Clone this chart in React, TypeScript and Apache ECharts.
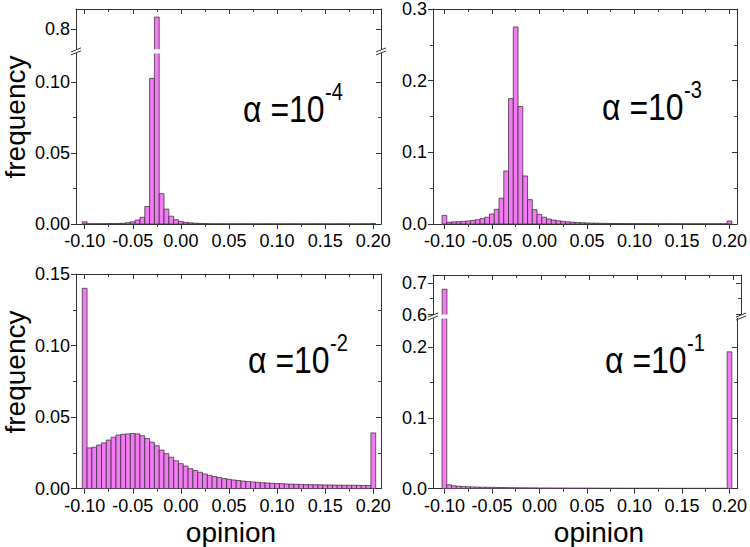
import React, { useEffect, useRef } from 'react';
import * as echarts from 'echarts';

// ---------- data ----------
const BIN = 0.005;
const opinionBins = [
  -0.1, -0.095, -0.09, -0.085, -0.08, -0.075, -0.07, -0.065, -0.06, -0.055,
  -0.05, -0.045, -0.04, -0.035, -0.03, -0.025, -0.02, -0.015, -0.01, -0.005,
  0.0, 0.005, 0.01, 0.015, 0.02, 0.025, 0.03, 0.035, 0.04, 0.045,
  0.05, 0.055, 0.06, 0.065, 0.07, 0.075, 0.08, 0.085, 0.09, 0.095,
  0.1, 0.105, 0.11, 0.115, 0.12, 0.125, 0.13, 0.135, 0.14, 0.145,
  0.15, 0.155, 0.16, 0.165, 0.17, 0.175, 0.18, 0.185, 0.19, 0.195,
  0.2,
];

// alpha = 1e-4
const freqAlpha4 = [
  0.0015, 0.0002, 0.0002, 0.0002, 0.0002, 0.0003, 0.0003, 0.0004, 0.0005, 0.0009,
  0.0015, 0.0028, 0.0047, 0.0123, 0.1025, 0.83, 0.0213, 0.0105, 0.0055, 0.003,
  0.0018, 0.0012, 0.0008, 0.0006, 0.0004, 0.0003, 0.0002, 0.0001, 0.0001, 0.0001,
  0.0001, 0.0001, 0.0001, 0.0001, 0.0001, 0.0001, 0.0001, 0.0001, 0.0001, 0.0001,
  0.0001, 0.0001, 0.0001, 0.0001, 0.0001, 0.0001, 0.0001, 0.0001, 0.0001, 0.0001,
  0.0001, 0.0001, 0.0001, 0.0001, 0.0001, 0.0001, 0.0001, 0.0001, 0.0001, 0.0001,
  0.0003,
];

// alpha = 1e-3
const freqAlpha3 = [
  0.012, 0.0025, 0.003, 0.0033, 0.0037, 0.0042, 0.005, 0.006, 0.0075, 0.0095,
  0.014, 0.0205, 0.036, 0.074, 0.175, 0.275, 0.164, 0.067, 0.034, 0.02,
  0.0135, 0.0095, 0.007, 0.0055, 0.0045, 0.0037, 0.003, 0.0025, 0.0021, 0.0018,
  0.0015, 0.0013, 0.0012, 0.001, 0.0009, 0.0008, 0.0007, 0.0007, 0.0006, 0.0006,
  0.0005, 0.0005, 0.0005, 0.0005, 0.0004, 0.0004, 0.0004, 0.0004, 0.0004, 0.0004,
  0.0003, 0.0003, 0.0003, 0.0003, 0.0003, 0.0003, 0.0003, 0.0003, 0.0003, 0.0003,
  0.0042,
];

// alpha = 1e-2
const freqAlpha2 = [
  0.14, 0.0285, 0.029, 0.0305, 0.032, 0.034, 0.036, 0.0375, 0.038, 0.0383,
  0.0385, 0.0383, 0.037, 0.035, 0.0325, 0.03, 0.027, 0.0245, 0.022, 0.0195,
  0.0175, 0.0158, 0.014, 0.0127, 0.0115, 0.0103, 0.0093, 0.0085, 0.0078, 0.0071,
  0.0066, 0.0061, 0.0057, 0.0053, 0.005, 0.0047, 0.0044, 0.0042, 0.004, 0.0038,
  0.0036, 0.0035, 0.0033, 0.0032, 0.0031, 0.003, 0.0029, 0.0028, 0.0028, 0.0027,
  0.0026, 0.0026, 0.0025, 0.0025, 0.0024, 0.0024, 0.0024, 0.0023, 0.0023, 0.0023,
  0.039,
];

// alpha = 1e-1
const freqAlpha1 = [
  0.68, 0.0055, 0.004, 0.0035, 0.003, 0.0027, 0.0025, 0.0023, 0.0021, 0.002,
  0.0019, 0.0018, 0.0017, 0.0016, 0.0015, 0.0014, 0.0013, 0.0013, 0.0012, 0.0012,
  0.0011, 0.0011, 0.0011, 0.001, 0.001, 0.001, 0.001, 0.0009, 0.0009, 0.0009,
  0.0009, 0.0009, 0.0008, 0.0008, 0.0008, 0.0008, 0.0008, 0.0008, 0.0007, 0.0007,
  0.0007, 0.0007, 0.0007, 0.0007, 0.0007, 0.0007, 0.0006, 0.0006, 0.0006, 0.0006,
  0.0006, 0.0006, 0.0006, 0.0006, 0.0006, 0.0006, 0.0006, 0.0006, 0.0006, 0.0006,
  0.193,
];

const xMajorTicks = [-0.1, -0.05, 0, 0.05, 0.1, 0.15, 0.2];
const xMinorTicks = [-0.075, -0.025, 0.025, 0.075, 0.125, 0.175];

const panelLabels = ['-4', '-3', '-2', '-1'];

// ---------- styles ----------
const FONT = "'Liberation Sans', Arial, sans-serif";
const TICK_SIZE = 18;
const AXIS_COLOR = '#333';
const BAR_FILL = '#F27AF2';
const BAR_STROKE = '#2a2a2a';

type PanelGrid = {
  left: number; top: number; width: number; height: number;
  xMin: number; xMax: number;
  yMin: number; yMax: number;
  yMajor: number[]; yMinor: number[];
  yDigits: number;
  showBottom: boolean; showTop: boolean;
  data: number[];
};

const LEFT_X: [number, number] = [-0.109, 0.208];
const RIGHT_X: [number, number] = [-0.112, 0.208];

const grids: PanelGrid[] = [
  // panel 1 upper
  { left: 76, top: 9, width: 305, height: 40.3, xMin: LEFT_X[0], xMax: LEFT_X[1],
    yMin: 0.75, yMax: 0.85, yMajor: [0.8], yMinor: [], yDigits: 1,
    showBottom: false, showTop: true, data: freqAlpha4 },
  // panel 1 lower
  { left: 76, top: 53.5, width: 305, height: 170.5, xMin: LEFT_X[0], xMax: LEFT_X[1],
    yMin: 0, yMax: 0.12, yMajor: [0, 0.05, 0.1], yMinor: [0.025, 0.075], yDigits: 2,
    showBottom: true, showTop: false, data: freqAlpha4 },
  // panel 2
  { left: 433, top: 9, width: 308, height: 215, xMin: RIGHT_X[0], xMax: RIGHT_X[1],
    yMin: 0, yMax: 0.3, yMajor: [0, 0.1, 0.2, 0.3], yMinor: [0.05, 0.15, 0.25], yDigits: 1,
    showBottom: true, showTop: true, data: freqAlpha3 },
  // panel 3
  { left: 76, top: 274, width: 305, height: 214.7, xMin: LEFT_X[0], xMax: LEFT_X[1],
    yMin: 0, yMax: 0.15, yMajor: [0, 0.05, 0.1, 0.15], yMinor: [0.025, 0.075, 0.125], yDigits: 2,
    showBottom: true, showTop: true, data: freqAlpha2 },
  // panel 4 upper
  { left: 433, top: 275, width: 308, height: 39.5, xMin: RIGHT_X[0], xMax: RIGHT_X[1],
    yMin: 0.6, yMax: 0.725, yMajor: [0.6, 0.7], yMinor: [0.65], yDigits: 1,
    showBottom: false, showTop: true, data: freqAlpha1 },
  // panel 4 lower
  { left: 433, top: 318.5, width: 308, height: 170.2, xMin: RIGHT_X[0], xMax: RIGHT_X[1],
    yMin: 0, yMax: 0.24, yMajor: [0, 0.1, 0.2], yMinor: [0.05, 0.15], yDigits: 1,
    showBottom: true, showTop: false, data: freqAlpha1 },
];

function buildOption() {
  const gridOpts: any[] = [];
  const xAxes: any[] = [];
  const yAxes: any[] = [];
  const series: any[] = [];

  grids.forEach((g, gi) => {
    gridOpts.push({ left: g.left, top: g.top, width: g.width, height: g.height, containLabel: false });
    const xBase = { type: 'value', gridIndex: gi, min: g.xMin, max: g.xMax, splitLine: { show: false } };
    const yBase = { type: 'value', gridIndex: gi, min: g.yMin, max: g.yMax, splitLine: { show: false } };
    const lineStyle = { color: AXIS_COLOR, width: 1 };
    const hiddenLine = { show: false, onZero: false };

    const primaryX = xAxes.length;
    // bottom major
    xAxes.push({
      ...xBase, position: 'bottom',
      axisLine: { show: g.showBottom, onZero: false, lineStyle },
      axisTick: { show: g.showBottom, inside: false, length: 5, customValues: xMajorTicks, lineStyle },
      axisLabel: {
        show: g.showBottom, customValues: xMajorTicks, margin: 8,
        color: '#000', fontSize: TICK_SIZE, fontFamily: FONT,
        formatter: (v: number) => v.toFixed(2),
      },
    });
    // bottom minor
    xAxes.push({
      ...xBase, position: 'bottom',
      axisLine: hiddenLine,
      axisTick: { show: g.showBottom, inside: false, length: 3, customValues: xMinorTicks, lineStyle },
      axisLabel: { show: false },
    });
    // top major
    xAxes.push({
      ...xBase, position: 'top',
      axisLine: { show: g.showTop, onZero: false, lineStyle },
      axisTick: { show: g.showTop, inside: true, length: 5, customValues: xMajorTicks, lineStyle },
      axisLabel: { show: false },
    });
    // top minor
    xAxes.push({
      ...xBase, position: 'top',
      axisLine: hiddenLine,
      axisTick: { show: g.showTop, inside: true, length: 3, customValues: xMinorTicks, lineStyle },
      axisLabel: { show: false },
    });

    const primaryY = yAxes.length;
    const minorVals = g.yMinor.length ? g.yMinor : [g.yMin];
    yAxes.push({
      ...yBase, position: 'left',
      axisLine: { show: true, onZero: false, lineStyle },
      axisTick: { show: true, inside: false, length: 5, customValues: g.yMajor, lineStyle },
      axisLabel: {
        show: true, customValues: g.yMajor, margin: 6,
        color: '#000', fontSize: TICK_SIZE, fontFamily: FONT,
        formatter: (v: number) => v.toFixed(g.yDigits),
      },
    });
    yAxes.push({
      ...yBase, position: 'left',
      axisLine: hiddenLine,
      axisTick: { show: g.yMinor.length > 0, inside: false, length: 3, customValues: minorVals, lineStyle },
      axisLabel: { show: false },
    });
    yAxes.push({
      ...yBase, position: 'right',
      axisLine: { show: true, onZero: false, lineStyle },
      axisTick: { show: true, inside: true, length: 5, customValues: g.yMajor, lineStyle },
      axisLabel: { show: false },
    });
    yAxes.push({
      ...yBase, position: 'right',
      axisLine: hiddenLine,
      axisTick: { show: g.yMinor.length > 0, inside: true, length: 3, customValues: minorVals, lineStyle },
      axisLabel: { show: false },
    });

    series.push({
      type: 'custom',
      xAxisIndex: primaryX,
      yAxisIndex: primaryY,
      clip: true,
      silent: true,
      data: opinionBins.map((b, i) => [b, g.data[i]]),
      renderItem: (_params: any, api: any) => {
        const x = api.value(0) as number;
        const y = api.value(1) as number;
        const tl = api.coord([x - BIN / 2, y]);
        const br = api.coord([x + BIN / 2, 0]);
        return {
          type: 'rect',
          shape: { x: tl[0], y: tl[1], width: br[0] - tl[0], height: br[1] - tl[1] },
          style: { fill: BAR_FILL, stroke: BAR_STROKE, lineWidth: 0.7 },
        };
      },
    });
  });

  // annotations
  const graphic: any[] = [];
  const breakMark = (x: number, y: number) => [
    { type: 'line', shape: { x1: x - 5, y1: y + 0.5, x2: x + 5, y2: y - 3.5 }, style: { stroke: AXIS_COLOR, lineWidth: 1 } },
    { type: 'line', shape: { x1: x - 5, y1: y + 3.5, x2: x + 5, y2: y - 0.5 }, style: { stroke: AXIS_COLOR, lineWidth: 1 } },
  ];
  graphic.push(...breakMark(76, 51.4), ...breakMark(381, 51.4));
  graphic.push(...breakMark(433, 316.5), ...breakMark(741, 316.5));

  const alphaPos = [
    { x: 243, base: 121.7 },
    { x: 602, base: 119.5 },
    { x: 248, base: 373.3 },
    { x: 605, base: 373.3 },
  ];
  const MAIN = 32;
  const SUP = 20;
  const SY = 1.15;
  alphaPos.forEach((p, i) => {
    graphic.push({
      type: 'text', x: p.x, y: p.base - 0.3465 * MAIN, scaleY: SY, originX: 0, originY: 0.3465 * MAIN,
      style: { text: 'α =10', fontSize: MAIN, fontFamily: FONT, fill: '#000', align: 'left', verticalAlign: 'middle' },
    });
    graphic.push({
      type: 'text', x: p.x + 82, y: p.base - 22 - 0.3465 * SUP, scaleY: SY, originX: 0, originY: 0.3465 * SUP,
      style: { text: panelLabels[i], fontSize: SUP, fontFamily: FONT, fill: '#000', align: 'left', verticalAlign: 'middle' },
    });
  });

  [117, 372].forEach((cy) => {
    graphic.push({
      type: 'text', x: 15, y: cy, rotation: Math.PI / 2,
      style: { text: 'frequency', fontSize: 28, fontFamily: FONT, fill: '#000', align: 'center', verticalAlign: 'middle' },
    });
  });
  [231, 599].forEach((cx) => {
    graphic.push({
      type: 'text', x: cx, y: 532,
      style: { text: 'opinion', fontSize: 28, fontFamily: FONT, fill: '#000', align: 'center', verticalAlign: 'middle' },
    });
  });

  return {
    animation: false,
    backgroundColor: '#fff',
    grid: gridOpts,
    xAxis: xAxes,
    yAxis: yAxes,
    series,
    graphic,
  };
}

export default function App() {
  const ref = useRef<HTMLDivElement>(null);
  useEffect(() => {
    if (!ref.current) return;
    const chart = echarts.init(ref.current, undefined, { renderer: 'svg' });
    chart.setOption(buildOption() as any);
    return () => chart.dispose();
  }, []);
  return <div ref={ref} style={{ position: 'fixed', left: 0, top: 0, width: 750, height: 547 }} />;
}
